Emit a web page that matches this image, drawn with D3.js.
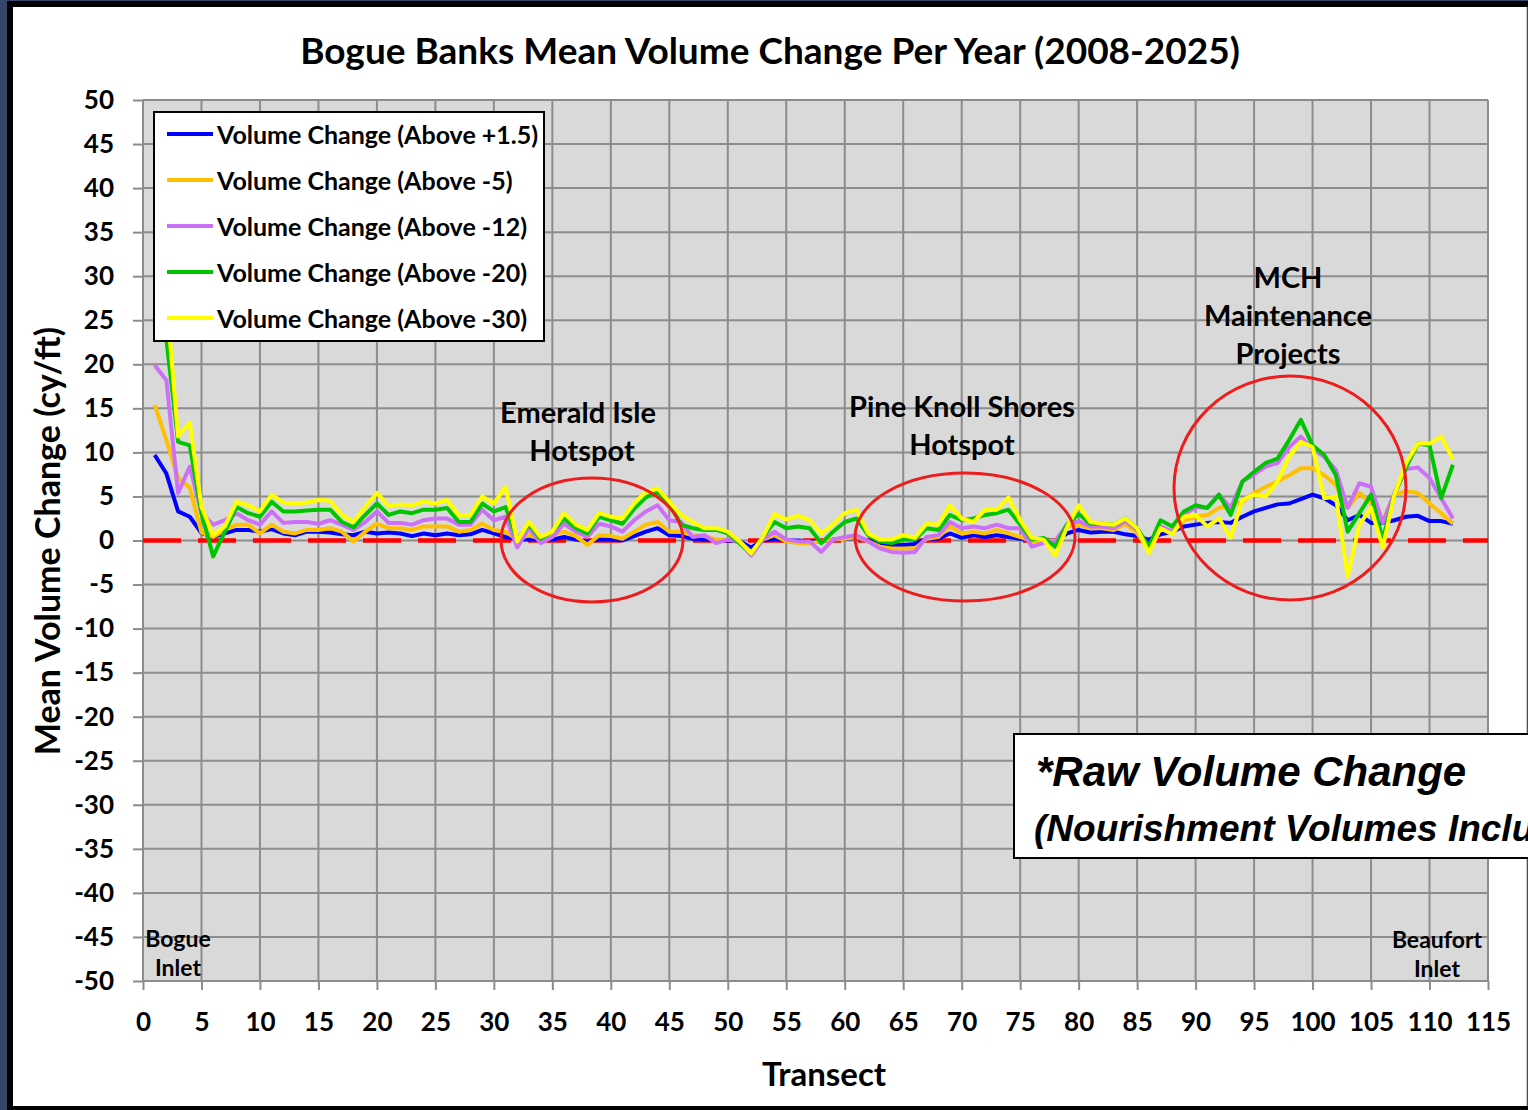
<!DOCTYPE html>
<html>
<head>
<meta charset="utf-8">
<script src="https://cdn.jsdelivr.net/npm/d3@7"></script>
<style>
body { margin: 0; background: #34466b; }
text { font-family: Lato, "Open Sans", sans-serif; font-weight: bold; fill: #000; }
</style>
</head>
<body>
<svg id="chart" width="1528" height="1110"></svg>
<script>
// transects 1..112
var transects = d3.range(1, 113);

var above15 = [9.7, 7.6, 3.3, 2.7, 0.85, 0.4, 0.8, 1.2, 1.2, 1.0,
	1.3, 0.8, 0.6, 1.0, 1.0, 0.9, 0.7, 0.6, 1.0, 0.8,
	0.9, 0.8, 0.5, 0.8, 0.6, 0.8, 0.6, 0.7, 1.2, 0.8,
	0.4, 0.1, 0.1, 0.1, 0.1, 0.4, 0.1, -0.1, 0.1, 0.1,
	0.0, 0.5, 1.0, 1.4, 0.6, 0.5, 0.2, 0.1, 0.0, 0.0,
	-0.1, -0.8, 0.0, 0.2, 0.0, 0.0, -0.1, -0.1, 0.1, 0.2,
	0.3, 0.0, -0.4, -0.5, -0.5, -0.4, 0.2, 0.2, 0.8, 0.3,
	0.6, 0.4, 0.6, 0.4, 0.2, 0.0, 0.1, 0.0, 0.8, 1.2,
	0.9, 1.0, 1.0, 0.7, 0.5, 0.1, 0.7, 1.0, 1.6, 1.8,
	2.0, 2.1, 2.0, 2.7, 3.3, 3.7, 4.1, 4.2, 4.7, 5.2,
	4.8, 4.0, 2.3, 2.9, 2.0, 2.0, 2.3, 2.7, 2.8, 2.2,
	2.2, 1.9];

var above5 = [15.4, 11.4, 7.1, 6.0, 0.9, 0.4, 1.2, 1.8, 1.8, 0.8,
	1.8, 1.0, 0.8, 1.2, 1.2, 1.4, 1.0, -0.1, 1.0, 1.9,
	1.4, 1.4, 1.2, 1.6, 1.6, 1.6, 1.0, 1.2, 1.9, 1.2,
	1.0, 0.1, 0.6, 0.2, 0.6, 1.0, 0.5, -0.5, 0.6, 0.5,
	0.2, 1.0, 1.8, 2.1, 1.0, 1.0, 0.6, 0.5, 0.1, 0.1,
	-0.1, -1.3, 0.1, 0.6, -0.1, -0.3, -0.3, -0.1, 0.1, 0.2,
	0.4, -0.1, -0.7, -0.9, -0.9, -0.9, 0.2, 0.4, 1.6, 0.8,
	1.0, 0.8, 1.2, 0.8, 0.4, -0.1, 0.0, 0.0, 1.6, 1.8,
	1.4, 1.4, 1.2, 1.9, 0.8, -1.0, 1.4, 0.8, 2.3, 2.7,
	2.9, 3.7, 4.0, 4.4, 5.4, 6.1, 6.7, 7.4, 8.2, 8.2,
	7.4, 6.3, 3.7, 5.4, 4.2, 2.3, 5.2, 5.6, 5.4, 4.2,
	3.1, 1.9];

var above12 = [19.9, 18.2, 5.4, 8.4, 3.1, 1.8, 2.3, 3.1, 2.3, 1.8,
	3.3, 2.0, 2.1, 2.1, 1.9, 2.3, 1.8, 1.2, 2.1, 3.3,
	2.0, 2.0, 1.8, 2.3, 2.5, 2.5, 1.8, 1.8, 3.5, 2.3,
	2.7, -0.8, 1.4, -0.3, 0.4, 1.9, 1.0, 0.4, 1.9, 1.6,
	1.0, 2.3, 3.3, 4.0, 2.3, 2.1, 0.4, 0.6, -0.3, 0.1,
	-0.1, -1.7, 0.1, 1.0, 0.1, -0.1, -0.1, -1.3, 0.1, 0.4,
	0.6, -0.1, -0.9, -1.3, -1.4, -1.3, 0.4, 0.6, 2.1, 1.4,
	1.6, 1.4, 1.8, 1.4, 1.4, -0.7, -0.3, -0.1, 1.8, 2.2,
	1.6, 1.6, 1.4, 2.2, 1.2, -1.2, 1.6, 1.0, 2.9, 3.8,
	3.7, 5.2, 3.7, 6.7, 7.5, 8.4, 8.8, 10.6, 11.8, 10.4,
	9.5, 8.0, 3.7, 6.5, 6.1, 2.0, 5.4, 8.1, 8.3, 7.1,
	4.8, 2.5];

var above20 = [26.0, 22.8, 11.2, 10.8, 3.1, -1.8, 1.0, 3.8, 3.1, 2.7,
	4.4, 3.3, 3.3, 3.4, 3.5, 3.5, 2.1, 1.5, 2.9, 4.2,
	2.9, 3.3, 3.1, 3.5, 3.5, 3.7, 2.1, 2.1, 4.2, 3.3,
	3.8, 0.1, 1.8, 0.2, 1.0, 2.5, 1.4, 0.8, 2.7, 2.3,
	1.9, 3.6, 4.9, 5.5, 4.2, 1.8, 1.4, 1.2, 1.2, 0.8,
	-0.3, -1.5, 0.4, 2.1, 1.4, 1.6, 1.4, -0.3, 1.0, 2.1,
	2.5, 0.6, -0.1, -0.3, 0.1, 0.1, 1.4, 1.2, 2.9, 2.3,
	2.5, 2.9, 3.1, 3.5, 1.8, 0.1, 0.3, -0.7, 1.8, 3.0,
	1.9, 1.9, 1.8, 2.5, 1.4, -0.7, 2.3, 1.6, 3.3, 4.0,
	3.7, 5.2, 2.9, 6.7, 7.8, 8.8, 9.3, 11.4, 13.7, 10.8,
	9.7, 7.4, 1.0, 3.1, 5.2, 0.1, 5.2, 8.3, 11.0, 10.8,
	4.8, 8.6];

var above30 = [30.5, 27.5, 11.8, 13.4, 3.8, 0.6, 1.6, 4.4, 4.0, 3.3,
	5.2, 4.3, 4.2, 4.3, 4.6, 4.5, 2.9, 2.1, 3.8, 5.4,
	3.9, 4.1, 4.0, 4.4, 4.2, 4.6, 2.9, 2.9, 5.0, 4.2,
	6.1, -0.1, 2.1, 0.4, 1.0, 3.1, 1.8, 1.2, 3.1, 2.7,
	2.5, 4.2, 5.5, 5.9, 4.4, 2.9, 2.1, 1.4, 1.4, 1.0,
	-0.1, -1.5, 0.4, 3.0, 2.4, 2.8, 2.3, 0.8, 1.8, 3.1,
	3.5, 0.8, 0.1, 0.1, 0.6, 0.3, 1.9, 1.8, 4.0, 2.5,
	2.1, 3.5, 3.5, 4.9, 2.3, 0.3, 0.1, -1.7, 1.5, 4.0,
	2.1, 1.9, 1.8, 2.5, 1.4, -1.4, 1.4, 0.7, 2.7, 2.9,
	1.6, 2.5, 0.3, 4.6, 5.2, 5.0, 6.7, 9.5, 11.2, 10.6,
	4.8, 5.0, -4.1, 1.8, 3.7, -0.8, 5.2, 8.8, 11.0, 11.0,
	11.8, 9.2];

var seriesNames = ["Volume Change (Above +1.5)", "Volume Change (Above -5)",
	"Volume Change (Above -12)", "Volume Change (Above -20)", "Volume Change (Above -30)"];
var seriesValues = [above15, above5, above12, above20, above30];
var seriesColors = ["#0000ff", "#ffc000", "#cc70f8", "#00c400", "#ffff00"];

var xTicks = d3.range(0, 116, 5);
var yTicks = d3.range(-50, 51, 5);

var svg = d3.select("#chart");
var W = 1528, H = 1110;
var pl = 143, pr = 1488, pt = 100, pb = 981;

var x = d3.scaleLinear().domain([0, 115]).range([pl, pr]);
var y = d3.scaleLinear().domain([-50, 50]).range([pb, pt]);

// frame
svg.append("rect").attr("x", 0).attr("y", 0).attr("width", W).attr("height", H).attr("fill", "#34466b");
svg.append("rect").attr("x", 7).attr("y", 1).attr("width", W - 7).attr("height", H - 1).attr("fill", "#000");
svg.append("rect").attr("x", 13).attr("y", 7).attr("width", 1514).attr("height", 1099).attr("fill", "#fff");
svg.append("line").attr("x1", 1527).attr("x2", 1527).attr("y1", 7).attr("y2", 1106)
	.attr("stroke", "#999").attr("stroke-width", 1);

// plot area
svg.append("rect")
	.attr("x", pl).attr("y", pt)
	.attr("width", pr - pl).attr("height", pb - pt)
	.attr("fill", "#d9d9d9");

// grid
var grid = svg.append("g").attr("stroke", "#8c8c8c").attr("stroke-width", 2);
grid.selectAll(".gx").data(xTicks).enter().append("line")
	.attr("x1", function(d) { return x(d); })
	.attr("x2", function(d) { return x(d); })
	.attr("y1", pt).attr("y2", pb);
grid.selectAll(".gy").data(yTicks).enter().append("line")
	.attr("x1", pl).attr("x2", pr)
	.attr("y1", function(d) { return y(d); })
	.attr("y2", function(d) { return y(d); });

// axes (plain hyphen for negatives, like the original)
var fmt = function(d) { return String(d); };
var xAxis = svg.append("g")
	.attr("transform", "translate(0," + pb + ")")
	.call(d3.axisBottom(x).tickValues(xTicks).tickFormat(fmt).tickSize(9).tickPadding(23));
var yAxis = svg.append("g")
	.attr("transform", "translate(" + pl + ",0)")
	.call(d3.axisLeft(y).tickValues(yTicks).tickFormat(fmt).tickSize(10).tickPadding(19));
[xAxis, yAxis].forEach(function(a) {
	a.select(".domain").remove();
	a.selectAll(".tick line").attr("stroke", "#8c8c8c").attr("stroke-width", 2);
	a.selectAll(".tick text")
		.attr("font-size", 26)
		.attr("fill", "#000");
});

// zero line
svg.append("line")
	.attr("x1", x(0)).attr("x2", x(115))
	.attr("y1", y(0)).attr("y2", y(0))
	.attr("stroke", "#ff0000")
	.attr("stroke-width", 4.5)
	.attr("stroke-dasharray", "38,17");

// series
var line = d3.line()
	.x(function(d, i) { return x(transects[i]); })
	.y(function(d) { return y(d); });

seriesValues.forEach(function(vals, k) {
	svg.append("path")
		.datum(vals)
		.attr("d", line)
		.attr("fill", "none")
		.attr("stroke", seriesColors[k])
		.attr("stroke-width", 4)
		.attr("stroke-linejoin", "round");
});

// hotspot ellipses
var ellipses = [
	{ cx: 592, cy: 540, rx: 91, ry: 62 },
	{ cx: 965, cy: 537, rx: 110, ry: 64 },
	{ cx: 1290, cy: 488, rx: 116, ry: 112 }
];
svg.selectAll(".hot").data(ellipses).enter().append("ellipse")
	.attr("cx", function(d) { return d.cx; })
	.attr("cy", function(d) { return d.cy; })
	.attr("rx", function(d) { return d.rx; })
	.attr("ry", function(d) { return d.ry; })
	.attr("fill", "none")
	.attr("stroke", "#ee1c1c")
	.attr("stroke-width", 3);

function label(lines, cx, cy, size, gap) {
	lines.forEach(function(s, i) {
		svg.append("text")
			.attr("x", cx)
			.attr("y", cy + i * gap)
			.attr("text-anchor", "middle")
			.attr("dominant-baseline", "central")
			.attr("font-size", size)
			.text(s);
	});
}
label(["Emerald Isle"], 578, 411, 29, 38);
label(["Hotspot"], 582, 449, 29, 38);
label(["Pine Knoll Shores", "Hotspot"], 962, 405, 29, 38);
label(["MCH", "Maintenance", "Projects"], 1288, 276, 29, 38);
label(["Bogue", "Inlet"], 178, 938, 23, 29);
label(["Beaufort", "Inlet"], 1437, 939, 23, 29);

// legend
var lg = svg.append("g");
lg.append("rect")
	.attr("x", 154).attr("y", 112)
	.attr("width", 390).attr("height", 229)
	.attr("fill", "#fff").attr("stroke", "#000").attr("stroke-width", 2);
seriesNames.forEach(function(n, i) {
	var yy = 134 + i * 46;
	lg.append("line")
		.attr("x1", 167).attr("x2", 213)
		.attr("y1", yy).attr("y2", yy)
		.attr("stroke", seriesColors[i]).attr("stroke-width", 4);
	lg.append("text")
		.attr("x", 217).attr("y", yy)
		.attr("dominant-baseline", "central")
		.attr("font-size", 25)
		.text(n);
});

// titles
svg.append("text")
	.attr("x", 770).attr("y", 49)
	.attr("text-anchor", "middle")
	.attr("dominant-baseline", "central")
	.attr("font-size", 37)
	.text("Bogue Banks Mean Volume Change Per Year (2008-2025)");
svg.append("text")
	.attr("x", 824).attr("y", 1073)
	.attr("text-anchor", "middle")
	.attr("dominant-baseline", "central")
	.attr("font-size", 33)
	.text("Transect");
svg.append("text")
	.attr("transform", "translate(46,541) rotate(-90)")
	.attr("text-anchor", "middle")
	.attr("dominant-baseline", "central")
	.attr("font-size", 34)
	.text("Mean Volume Change (cy/ft)");

// note box (runs past the right edge, as in the original slide)
svg.append("rect")
	.attr("x", 1014).attr("y", 734)
	.attr("width", 540).attr("height", 124)
	.attr("fill", "#fff").attr("stroke", "#000").attr("stroke-width", 2);
svg.append("text")
	.attr("x", 1036).attr("y", 786)
	.style("font-family", "'Liberation Sans', Arial, sans-serif")
	.style("font-style", "italic")
	.attr("font-size", 42)
	.text("*Raw Volume Change");
svg.append("text")
	.attr("x", 1034).attr("y", 841)
	.style("font-family", "'Liberation Sans', Arial, sans-serif")
	.style("font-style", "italic")
	.attr("font-size", 37)
	.text("(Nourishment Volumes Included)");
</script>
</body>
</html>
